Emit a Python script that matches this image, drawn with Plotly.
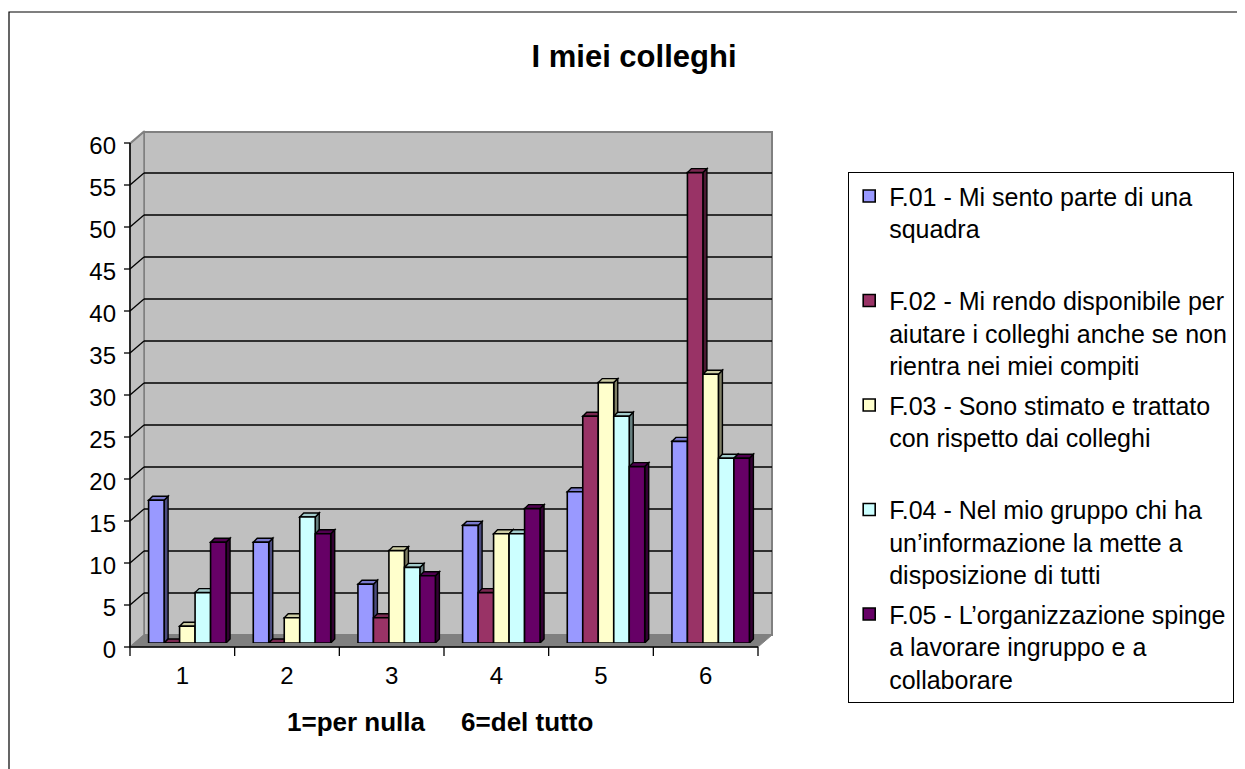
import plotly.graph_objects as go

# ---- data ----
categories = ["1", "2", "3", "4", "5", "6"]
series_names = [
    "F.01 - Mi sento parte di una<br>squadra<br>\u00a0",
    "F.02 - Mi rendo disponibile per<br>aiutare i colleghi anche se non<br>rientra nei miei compiti",
    "F.03 - Sono stimato e trattato<br>con rispetto dai colleghi<br>\u00a0",
    "F.04 - Nel mio gruppo chi ha<br>un\u2019informazione la mette a<br>disposizione di tutti",
    "F.05 - L\u2019organizzazione spinge<br>a lavorare ingruppo e a<br>collaborare",
]
f01 = [17, 12, 7, 14, 18, 24]
f02 = [0, 0, 3, 6, 27, 56]
f03 = [2, 3, 11, 13, 31, 32]
f04 = [6, 15, 9, 13, 27, 22]
f05 = [12, 13, 8, 16, 21, 22]
series_values = [f01, f02, f03, f04, f05]
y_ticks = [0, 5, 10, 15, 20, 25, 30, 35, 40, 45, 50, 55, 60]

colors = ["#9999FF", "#993366", "#FFFFCC", "#CCFFFF", "#660066"]

# ---- layout geometry (reference pixels; page body adds an 8px margin) ----
OFF = 8
W, H = 1245, 769
L, R = 135, 763      # plot area (bar plane) left/right
T, B = 139, 643      # plot area top/bottom
PW, PH = R - L, B - T
FONT = "Liberation Sans, Arial, Helvetica, sans-serif"
YMAX = y_ticks[-1]
NCAT = len(categories)
x_pos = list(range(1, NCAT + 1))

GROUP_W = 0.74
BAR_W = GROUP_W / len(series_values)


def px(x):
    return (x - L) / PW


def py(y):
    return (B - y) / PH


def shade(hexcol, f):
    h = hexcol.lstrip("#")
    r, g, b = (int(h[i:i + 2], 16) for i in (0, 2, 4))
    return "#%02X%02X%02X" % (int(r * f), int(g * f), int(b * f))


fig = go.Figure()
shapes = []

# data units per pixel for the 3D depth of the bars
DX = 4 * (NCAT / PW)
DY = 4 * (YMAX / PH)

for i, (name, vals, col) in enumerate(zip(series_names, series_values, colors)):
    off = -GROUP_W / 2 + i * BAR_W
    fig.add_trace(go.Bar(
        x=x_pos, y=vals, name=name, legendgroup="g%d" % i,
        width=BAR_W, offset=off,
        marker=dict(color=col, line=dict(color="black", width=1.6)),
    ))
    for xc, v in zip(x_pos, vals):
        xl = xc + off
        xr = xl + BAR_W
        # side face
        shapes.append(dict(type="path", xref="x", yref="y", layer="below",
                           path=f"M{xr},0 L{xr + DX},{DY} L{xr + DX},{v + DY} L{xr},{v} Z",
                           fillcolor=shade(col, 0.5), line=dict(color="black", width=1.4)))
        # top face
        shapes.append(dict(type="path", xref="x", yref="y", layer="below",
                           path=f"M{xl},{v} L{xr},{v} L{xr + DX},{v + DY} L{xl + DX},{v + DY} Z",
                           fillcolor=shade(col, 0.8), line=dict(color="black", width=1.4)))

deco = []
# outer chart border
deco.append(dict(type="rect", xref="paper", yref="paper",
                 x0=px(9), x1=px(1262), y0=py(12), y1=py(790),
                 line=dict(color="black", width=1.2), fillcolor="rgba(0,0,0,0)",
                 layer="below"))
# back wall
deco.append(dict(type="rect", xref="paper", yref="paper",
                 x0=px(144), x1=px(772), y0=py(635), y1=py(132),
                 fillcolor="#C0C0C0", line=dict(color="#808080", width=2),
                 layer="below"))
# side wall
deco.append(dict(type="path", xref="paper", yref="paper",
                 path=f"M{px(130)},{py(647)} L{px(130)},{py(144)} L{px(144)},{py(132)} L{px(144)},{py(635)} Z",
                 fillcolor="#C0C0C0", line=dict(color="#808080", width=1.5),
                 layer="below"))
# floor
deco.append(dict(type="path", xref="paper", yref="paper",
                 path=f"M{px(130)},{py(647)} L{px(144)},{py(635)} L{px(772)},{py(635)} L{px(758)},{py(647)} Z",
                 fillcolor="#808080", line=dict(color="#808080", width=1),
                 layer="below"))
# gridlines on back wall and side wall, front y tick marks
for t in y_ticks:
    f = t / YMAX
    if 0 < t < YMAX:
        deco.append(dict(type="line", xref="paper", x0=px(144), x1=px(772),
                         yref="paper", ysizemode="pixel", yanchor=f, y0=8, y1=8,
                         line=dict(color="black", width=1.3), layer="below"))
    if t > 0:
        deco.append(dict(type="line", xref="paper", x0=px(130), x1=px(144),
                         yref="paper", ysizemode="pixel", yanchor=f, y0=-4, y1=8,
                         line=dict(color="black" if t < YMAX else "#808080", width=1.3),
                         layer="below"))
    deco.append(dict(type="line", xref="paper", x0=px(124), x1=px(130),
                     yref="paper", ysizemode="pixel", yanchor=f, y0=-4, y1=-4,
                     line=dict(color="black", width=1.3)))
# front y axis line
deco.append(dict(type="line", xref="paper", yref="paper",
                 x0=px(130), x1=px(130), y0=py(647), y1=py(143),
                 line=dict(color="black", width=1.5)))
# front x axis line
deco.append(dict(type="line", xref="paper", yref="paper",
                 x0=px(130), x1=px(758), y0=py(647), y1=py(647),
                 line=dict(color="black", width=1.5)))
# x tick marks at category boundaries
for k in range(NCAT + 1):
    deco.append(dict(type="line", xref="paper", xsizemode="pixel", xanchor=k / NCAT,
                     x0=-5, x1=-5, yref="paper", y0=py(647), y1=py(656),
                     line=dict(color="black", width=1.3)))

fig.update_layout(
    width=W, height=H,
    margin=dict(l=L - OFF, r=W - R + OFF, t=T - OFF, b=H - B + OFF),
    paper_bgcolor="white", plot_bgcolor="rgba(0,0,0,0)",
    font=dict(family=FONT, color="black", size=24),
    barmode="overlay",
    title=dict(text="<b>I miei colleghi</b>", font=dict(size=31, family=FONT),
               x=(634 - OFF) / W, xanchor="center", y=1 - (56 - OFF) / H, yanchor="middle"),
    xaxis=dict(range=[0.5, NCAT + 0.5], tickvals=x_pos, ticktext=categories,
               showgrid=False, showline=False, ticks="",
               tickfont=dict(size=24), ticklabelshift=-5, ticklabelstandoff=16,
               zeroline=False),
    yaxis=dict(range=[0, YMAX], tickvals=y_ticks, showgrid=False, showline=False,
               ticks="", zeroline=False, tickfont=dict(size=24),
               ticklabelshift=7, ticklabelstandoff=18),
    legend=dict(x=px(848), y=py(172), xanchor="left", yanchor="top",
                bordercolor="black", borderwidth=1.2, bgcolor="white",
                font=dict(size=25, family=FONT), valign="top",
                tracegroupgap=4, traceorder="grouped", maxheight=720),
    shapes=deco + shapes,
    annotations=[dict(text="<b>1=per nulla\u00a0\u00a0\u00a0\u00a0\u00a06=del tutto</b>",
                      xref="paper", yref="paper", x=px(440), y=py(722),
                      xanchor="center", yanchor="middle", showarrow=False,
                      font=dict(size=26, family=FONT))],
)

fig.write_html("out.html")
